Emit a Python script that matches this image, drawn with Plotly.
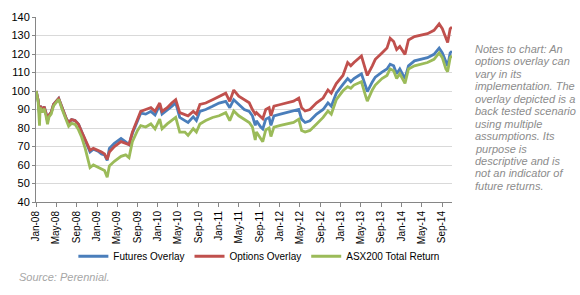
import plotly.graph_objects as go

dates = [
    "2008-01-02", "2008-01-14", "2008-01-22", "2008-01-26", "2008-02-07", "2008-02-19",
    "2008-03-01", "2008-03-10", "2008-03-19", "2008-04-01", "2008-04-15", "2008-05-16",
    "2008-06-06", "2008-07-01", "2008-07-15", "2008-08-01", "2008-08-22", "2008-09-12",
    "2008-10-01", "2008-10-22", "2008-11-10", "2008-11-20", "2008-12-10", "2009-01-07",
    "2009-01-28", "2009-02-15", "2009-03-03", "2009-03-16", "2009-04-15", "2009-05-25",
    "2009-06-22", "2009-07-12", "2009-08-01", "2009-09-01", "2009-09-20", "2009-10-20",
    "2009-11-20", "2009-12-15", "2010-01-12", "2010-01-26", "2010-02-26", "2010-03-25",
    "2010-04-18", "2010-05-12", "2010-06-12", "2010-07-01", "2010-08-01", "2010-08-20",
    "2010-09-10", "2010-10-15", "2010-11-25", "2011-01-03", "2011-02-12", "2011-03-08",
    "2011-04-01", "2011-05-01", "2011-06-03", "2011-07-03", "2011-07-22", "2011-08-08",
    "2011-08-15", "2011-09-10", "2011-09-22", "2011-10-10", "2011-10-30", "2011-11-10",
    "2011-11-28", "2012-01-06", "2012-02-15", "2012-03-25", "2012-04-25", "2012-05-12",
    "2012-06-02", "2012-07-01", "2012-08-10", "2012-09-18", "2012-10-17", "2012-11-06",
    "2012-12-06", "2013-01-15", "2013-02-12", "2013-03-03", "2013-03-22", "2013-04-20",
    "2013-05-06", "2013-06-01", "2013-06-10", "2013-07-10", "2013-07-28", "2013-09-06",
    "2013-10-06", "2013-10-25", "2013-11-15", "2013-12-03", "2013-12-22", "2014-01-22",
    "2014-02-12", "2014-03-20", "2014-04-28", "2014-06-06", "2014-07-15", "2014-08-15",
    "2014-09-03", "2014-09-24", "2014-10-05", "2014-10-20", "2014-10-31",
]

futures = [
    100, 95, 87, 92, 90, 91.5,
    88, 84, 87, 88.5, 92.7, 96,
    91, 85, 83, 84.5, 84, 82,
    78, 73, 69, 67, 68.5, 67.5,
    66, 65.5, 62.5, 69, 71.7, 74.3,
    72.5, 71, 77, 84, 88, 87.5,
    89, 87, 92.5, 87.5, 89.5, 91.7,
    93.6, 85.7, 84, 83, 86, 84,
    89, 90, 91.7, 93.5, 94.4, 91,
    95.3, 93, 90, 89, 86.6, 81.4,
    83.9, 80.5, 79.5, 84.8, 85.7, 81.4,
    86.6, 87.5, 88.3, 89.2, 90, 84.8,
    83, 83.9, 87.5, 90, 93.6, 91.8,
    98.8, 103.6, 106.7, 105, 106.7, 108.4,
    109.3, 102.3, 99.7, 104.9, 107.5, 110.2,
    111.9, 114.5, 113.6, 109.3, 111.9, 106.7,
    113.6, 116.3, 117.1, 118, 119.8, 123.2,
    120.6, 115.4, 113.5, 120.6, 121.5,
]

options = [
    100, 95, 88, 92, 90, 91.5,
    88, 84, 87, 88.5, 92.7, 96,
    91, 85, 83, 84.5, 84, 82,
    78, 74, 70, 68, 69, 68,
    67, 66, 63, 67, 70, 72.6,
    71.5, 71, 77.8, 84.8, 89, 90,
    91, 89, 93.5, 89, 91, 93.5,
    95.3, 88.3, 87.5, 86.6, 89, 87.5,
    92.7, 93.5, 95.3, 97, 98.8, 94.4,
    100.5, 97.2, 95.3, 93.6, 90, 87.5,
    88.3, 85.7, 85, 90, 91, 86.6,
    91.8, 92.7, 93.6, 94.5, 96.2, 91,
    89.2, 90, 93.6, 96.2, 100.6, 98.8,
    104, 108.4, 115.4, 113.6, 115.4, 118,
    118.9, 111, 108.4, 113.6, 117.1, 120.6,
    123.2, 128.5, 126.7, 122.4, 124.1, 119.8,
    127.6, 129.4, 130.2, 131, 132.8, 136.3,
    133.7, 128.5, 126.2, 133.7, 134.5,
]

asx200 = [
    100, 94, 81.3, 91, 88.5, 90.5,
    86.5, 82, 86, 87.5, 92, 95.5,
    90, 84, 81, 82.5, 82, 79,
    75, 69, 63, 58.6, 60, 58.6,
    57.7, 57, 53.4, 59.5, 62, 64.7,
    65.5, 64, 72.6, 78.7, 81.3, 80.5,
    82.2, 79.5, 84.8, 79.6, 82.2, 84,
    85.7, 77.8, 77.8, 76, 79.6, 77.8,
    82.2, 84, 85.7, 86.6, 88.3, 84,
    89.2, 86.6, 84.8, 83, 80.5, 73.5,
    77.9, 74.4, 72.6, 79, 80, 75.4,
    80.5, 81.4, 82.2, 83, 84.8, 78.7,
    77.8, 78.7, 82.2, 85.7, 89.2, 87.5,
    95.3, 100.1, 102.3, 101.5, 103.2, 104.1,
    105, 97, 94.5, 100.6, 103.2, 106.7,
    108.4, 111.9, 111, 106.7, 109.3, 104.1,
    111.9, 113.6, 114.5, 115.4, 117.1, 120.6,
    118, 111.9, 110.5, 118, 119,
]

series_names = ["Futures Overlay", "Options Overlay", "ASX200 Total Return"]
series_values = [futures, options, asx200]
colors = ["#4A7EBB", "#C0504D", "#9BBB59"]

notes_lines = [
    "Notes to chart: An", "options overlay can", "vary in its", "implementation. The",
    "overlay depicted is a", "back tested scenario", "using multiple", "assumptions. Its",
    "purpose is", "descriptive and is", "not an indicator of", "future returns.",
]
source_text = "Source: Perennial."

fig = go.Figure()
for name, vals, col in zip(series_names, series_values, colors):
    fig.add_trace(go.Scatter(x=dates, y=vals, name=name, mode="lines",
                             line=dict(color=col, width=2.8)))

L, R, T, B = 29, 452, 11, 202
W, H = 580, 295
pw, ph = R - L, B - T

annotations = []
for i, line in enumerate(notes_lines):
    yc = 44 + 12.85 * i
    annotations.append(dict(
        text=line, xref="paper", yref="paper", x=(473 - L) / pw, y=(B - yc) / ph,
        xanchor="left", yanchor="middle", showarrow=False,
        font=dict(family="Liberation Sans, Arial, sans-serif", size=11, color="#8C8C8C",
                  style="italic")))
annotations.append(dict(
    text=source_text, xref="paper", yref="paper", x=(10 - L) / pw, y=(B - 279) / ph,
    xanchor="left", yanchor="middle", showarrow=False,
    font=dict(family="Liberation Sans, Arial, sans-serif", size=11, color="#A6A6A6",
              style="italic")))

fig.update_layout(
    width=W, height=H,
    margin=dict(l=L, r=W - R, t=T, b=H - B),
    paper_bgcolor="white", plot_bgcolor="white",
    font=dict(family="Liberation Sans, Arial, sans-serif", size=10, color="#000000"),
    showlegend=True,
    legend=dict(orientation="h", x=(67 - L) / pw, xanchor="left", y=(B - 258) / ph,
                yanchor="middle", font=dict(size=10), itemwidth=30,
                bgcolor="rgba(0,0,0,0)"),
    annotations=annotations,
)
fig.update_xaxes(
    type="date", range=["2008-01-01", "2014-10-31"],
    tick0="2008-01-01", dtick="M4", tickformat="%b-%y", tickangle=-90,
    showgrid=False, showline=True, linecolor="#868686", linewidth=1,
    ticks="outside", ticklen=4, tickcolor="#868686",
    tickfont=dict(size=10, color="#000000"),
)
fig.update_yaxes(
    range=[40, 140], dtick=10, showgrid=True, gridcolor="#D9D9D9", gridwidth=1,
    showline=True, linecolor="#868686", linewidth=1, zeroline=False,
    ticks="outside", ticklen=3, tickcolor="#868686",
    tickfont=dict(size=11, color="#000000"),
)

fig.write_html("out.html")
